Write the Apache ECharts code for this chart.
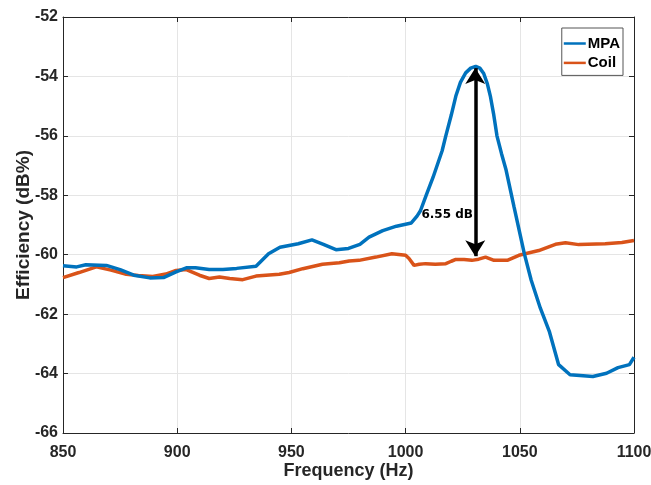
<!DOCTYPE html>
<html>
<head>
<meta charset="utf-8">
<script src="https://cdn.jsdelivr.net/npm/echarts@6/dist/echarts.min.js"></script>
<style>
  html, body { margin: 0; padding: 0; background: #fff; }
  #chart { width: 651px; height: 485px; }
</style>
</head>
<body>
<div id="chart"></div>
<script>
// values
const mpaFreq = [850, 856, 860, 869, 875, 881, 888, 894, 899.5, 904, 908, 914, 920, 926, 934.5,
  940, 945, 953, 959, 964, 969.5, 975, 980, 984, 990, 996, 1002.5, 1005, 1006.5, 1009, 1012,
  1016, 1017.6, 1020, 1022, 1024, 1026.3, 1028.5, 1030.7, 1032.5, 1034.2, 1035.8, 1037.1,
  1038.5, 1040, 1042, 1044, 1047.5, 1052, 1055, 1059, 1063, 1067, 1072, 1082, 1088, 1093,
  1098, 1100];
const mpaEff = [-60.37, -60.41, -60.34, -60.36, -60.5, -60.69, -60.78, -60.77, -60.58, -60.44,
  -60.44, -60.5, -60.5, -60.46, -60.39, -59.97, -59.75, -59.63, -59.5, -59.65, -59.83, -59.79,
  -59.65, -59.41, -59.19, -59.04, -58.93, -58.7, -58.52, -58.0, -57.4, -56.5, -56.0, -55.3,
  -54.66, -54.2, -53.88, -53.72, -53.66, -53.72, -53.9, -54.25, -54.66, -55.25, -56.0, -56.6,
  -57.15, -58.4, -59.97, -60.86, -61.8, -62.6, -63.7, -64.04, -64.1, -63.99, -63.8, -63.7,
  -63.45];

const coilFreq = [850, 857, 864.6, 871, 877.7, 883, 889.3, 895, 899.5, 904, 909.7, 914, 918.5,
  923, 928.7, 934.5, 944.7, 949, 955, 963.6, 971, 975.3, 979.6, 987, 994, 1000, 1001.5, 1003.7,
  1006, 1008.8, 1013, 1017.6, 1020, 1022, 1025.6, 1029, 1032, 1035, 1038.7, 1044.5, 1049.6,
  1058.3, 1065.6, 1070, 1075.8, 1087.4, 1094.7, 1100];
const coilEff = [-60.77, -60.6, -60.41, -60.52, -60.66, -60.7, -60.73, -60.65, -60.53, -60.5,
  -60.69, -60.8, -60.75, -60.8, -60.84, -60.72, -60.66, -60.6, -60.47, -60.32, -60.27, -60.21,
  -60.19, -60.08, -59.97, -60.02, -60.13, -60.36, -60.32, -60.3, -60.32, -60.3, -60.22, -60.16,
  -60.16, -60.19, -60.15, -60.08, -60.19, -60.19, -60.02, -59.86, -59.65, -59.6, -59.66,
  -59.63, -59.59, -59.52];

const xTicks = [850, 900, 950, 1000, 1050, 1100];
const yTicks = [-66, -64, -62, -60, -58, -56, -54, -52];

// double arrow marking the peak gap
const gapFreq = 1030.5;
const gapTop = -53.72;
const gapBottom = -60.05;
const gapLabel = '6.55 dB';

const font = "'Liberation Sans Narrow', 'Liberation Sans', Arial, sans-serif";
const axisColor = '#262626';

const chart = echarts.init(document.getElementById('chart'));

const pairs = (xs, ys) => xs.map((x, i) => [x, ys[i]]);

const baseX = {
  type: 'value',
  min: 850,
  max: 1100,
  interval: 50,
  axisLine: { show: true, lineStyle: { color: axisColor, width: 1 } },
  axisTick: { show: true, inside: true, length: 5, lineStyle: { color: axisColor } },
};
const baseY = {
  type: 'value',
  min: -66,
  max: -52,
  interval: 2,
  axisLine: { show: true, lineStyle: { color: axisColor, width: 1 } },
  axisTick: { show: true, inside: true, length: 5, lineStyle: { color: axisColor } },
};

chart.setOption({
  backgroundColor: '#ffffff',
  animation: false,
  grid: { left: 63, right: 17, top: 17, bottom: 52, containLabel: false, outerBoundsMode: 'none' },
  legend: {
    orient: 'vertical',
    right: 28,
    top: 28,
    padding: [8, 3, 5, 2],
    itemGap: 4.4,
    itemWidth: 22,
    itemHeight: 14,
    borderColor: '#555',
    borderWidth: 1,
    backgroundColor: '#fff',
    textStyle: { fontFamily: font, fontWeight: 'bold', fontSize: 15, color: '#000', padding: [0, 0, 0, -3] },
    data: [
      { name: 'MPA', icon: 'path://M0,6 L22,6 L22,8.5 L0,8.5 Z' },
      { name: 'Coil', icon: 'path://M0,6 L22,6 L22,8.5 L0,8.5 Z' },
    ],
  },
  xAxis: [
    {
      ...baseX,
      name: 'Frequency (Hz)',
      nameLocation: 'middle',
      nameGap: 29,
      nameMoveOverlap: false,
      nameTextStyle: { fontFamily: font, fontWeight: 'bold', fontSize: 18, color: '#262626',
        verticalAlign: 'top' },
      axisLabel: { fontFamily: font, fontWeight: 'bold', fontSize: 16, color: '#262626', margin: 12,
        formatter: (v) => (xTicks.includes(v) ? String(v) : '') },
      splitLine: { show: true, lineStyle: { color: '#e5e5e5', width: 1 } },
    },
    {
      ...baseX,
      position: 'top',
      axisLabel: { show: false },
      splitLine: { show: false },
    },
  ],
  yAxis: [
    {
      ...baseY,
      name: 'Efficiency (dB%)',
      nameLocation: 'middle',
      nameGap: 30,
      nameMoveOverlap: false,
      nameTextStyle: { fontFamily: font, fontWeight: 'bold', fontSize: 19, color: '#262626',
        verticalAlign: 'bottom' },
      axisLabel: { fontFamily: font, fontWeight: 'bold', fontSize: 16, color: '#262626', margin: 5,
        formatter: (v) => (yTicks.includes(v) ? String(v) : '') },
      splitLine: { show: true, lineStyle: { color: '#e5e5e5', width: 1 } },
    },
    {
      ...baseY,
      position: 'right',
      axisLabel: { show: false },
      splitLine: { show: false },
    },
  ],
  series: [
    {
      name: 'MPA',
      type: 'line',
      data: pairs(mpaFreq, mpaEff),
      showSymbol: false,
      color: '#0072BD',
      lineStyle: { width: 3.5, color: '#0072BD' },
      z: 3,
    },
    {
      name: 'Coil',
      type: 'line',
      data: pairs(coilFreq, coilEff),
      showSymbol: false,
      color: '#D95319',
      lineStyle: { width: 3.5, color: '#D95319' },
      z: 2,
      markLine: {
        silent: true,
        symbol: ['arrow', 'arrow'],
        symbolSize: [15, 16],
        lineStyle: { color: '#000', width: 3.5, type: 'solid' },
        label: { show: false },
        data: [[{ coord: [gapFreq, gapTop] }, { coord: [gapFreq, gapBottom] }]],
        z: 5,
      },
      markPoint: {
        silent: true,
        symbol: 'rect',
        symbolSize: 0,
        label: {
          show: true,
          position: 'left',
          distance: 0,
          formatter: gapLabel,
          fontFamily: 'DejaVu Sans',
          fontWeight: 'bold',
          fontSize: 12,
          color: '#000',
        },
        data: [{ coord: [gapFreq - 1, -58.65] }],
      },
    },
  ],
});
</script>
</body>
</html>
